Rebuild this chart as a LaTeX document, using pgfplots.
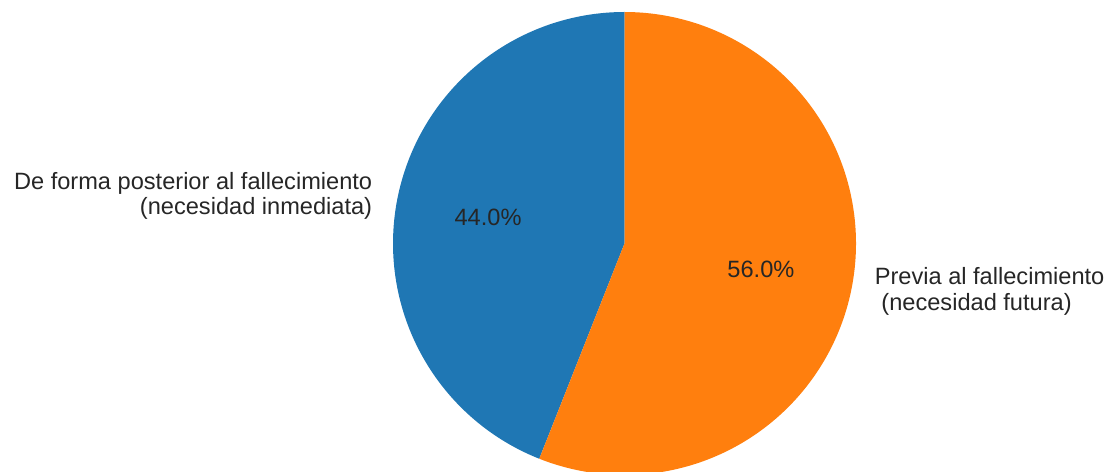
\documentclass[border=0pt]{standalone}
\usepackage{pgfplots}
\pgfplotsset{compat=1.18}
\usepackage{pgfplotstable}
\usepackage{fontspec}
\setmainfont{Liberation Sans}
\definecolor{pblue}{HTML}{1F77B4}
\definecolor{porange}{HTML}{FF7F0E}
\definecolor{ptext}{HTML}{262626}
\pgfplotstableread{
label value
posterior 44.0
previa 56.0
}\piedata
\pgfplotstablegetelem{0}{value}\of\piedata \let\va\pgfplotsretval
\pgfplotstablegetelem{1}{value}\of\piedata \let\vb\pgfplotsretval
\def\cx{624.5}
\def\cy{227.5}
\def\R{231.5}
\pgfmathsetmacro{\aStart}{90}
\pgfmathsetmacro{\aEnd}{90+\va*3.6}
\pgfmathsetmacro{\bEnd}{\aEnd+\vb*3.6}
\pgfmathsetmacro{\aMid}{(\aStart+\aEnd)/2}
\pgfmathsetmacro{\bMid}{(\aEnd+\bEnd)/2}
\begin{document}
\begin{tikzpicture}
\begin{axis}[
  at={(0,0)}, anchor=south west,
  width=1110pt, height=471pt, scale only axis,
  xmin=0, xmax=1110, ymin=0, ymax=471,
  hide axis, clip=true,
]
\addplot[fill=pblue, draw=none, domain=\aStart:\aEnd, samples=300]
  ({\cx+\R*cos(x)},{\cy+\R*sin(x)}) -- (axis cs:\cx,\cy) -- cycle;
\addplot[fill=porange, draw=none, domain=\aEnd:\bEnd, samples=300]
  ({\cx+\R*cos(x)},{\cy+\R*sin(x)}) -- (axis cs:\cx,\cy) -- cycle;
\end{axis}
\begin{axis}[
  at={(0,0)}, anchor=south west,
  width=1110pt, height=471pt, scale only axis,
  xmin=0, xmax=1110, ymin=0, ymax=471,
  hide axis, clip=false,
]
\pgfmathsetmacro{\pax}{\cx+0.6*\R*cos(\aMid)}
\pgfmathsetmacro{\pay}{\cy+0.6*\R*sin(\aMid)}
\pgfmathsetmacro{\pbx}{\cx+0.6*\R*cos(\bMid)}
\pgfmathsetmacro{\pby}{\cy+0.6*\R*sin(\bMid)}
\pgfmathsetmacro{\lax}{\cx+1.1*\R*cos(\aMid)}
\pgfmathsetmacro{\lay}{\cy+1.1*\R*sin(\aMid)}
\pgfmathsetmacro{\lbx}{\cx+1.1*\R*cos(\bMid)}
\pgfmathsetmacro{\lby}{\cy+1.1*\R*sin(\bMid)}
\node[text=ptext, font=\fontsize{23.6}{25.5}\selectfont, inner sep=0pt] at (axis cs:\pax,\pay) {\pgfmathprintnumber[fixed,fixed zerofill,precision=1,assume math mode=true]{\va}\%};
\node[text=ptext, font=\fontsize{23.6}{25.5}\selectfont, inner sep=0pt] at (axis cs:\pbx,\pby) {\pgfmathprintnumber[fixed,fixed zerofill,precision=1,assume math mode=true]{\vb}\%};
\node[text=ptext, font=\fontsize{23.6}{25.5}\selectfont, inner sep=0pt, anchor=east, align=right] at (axis cs:\lax-2,\lay) {De forma posterior al fallecimiento\\(necesidad inmediata)};
\node[text=ptext, font=\fontsize{23.6}{25.5}\selectfont, inner sep=0pt, anchor=west, align=left] at (axis cs:\lbx,\lby) {Previa al fallecimiento\\\hspace{0.28em}(necesidad futura)};
\end{axis}
\path (0,0) rectangle (1110pt,471pt);
\end{tikzpicture}
\end{document}
